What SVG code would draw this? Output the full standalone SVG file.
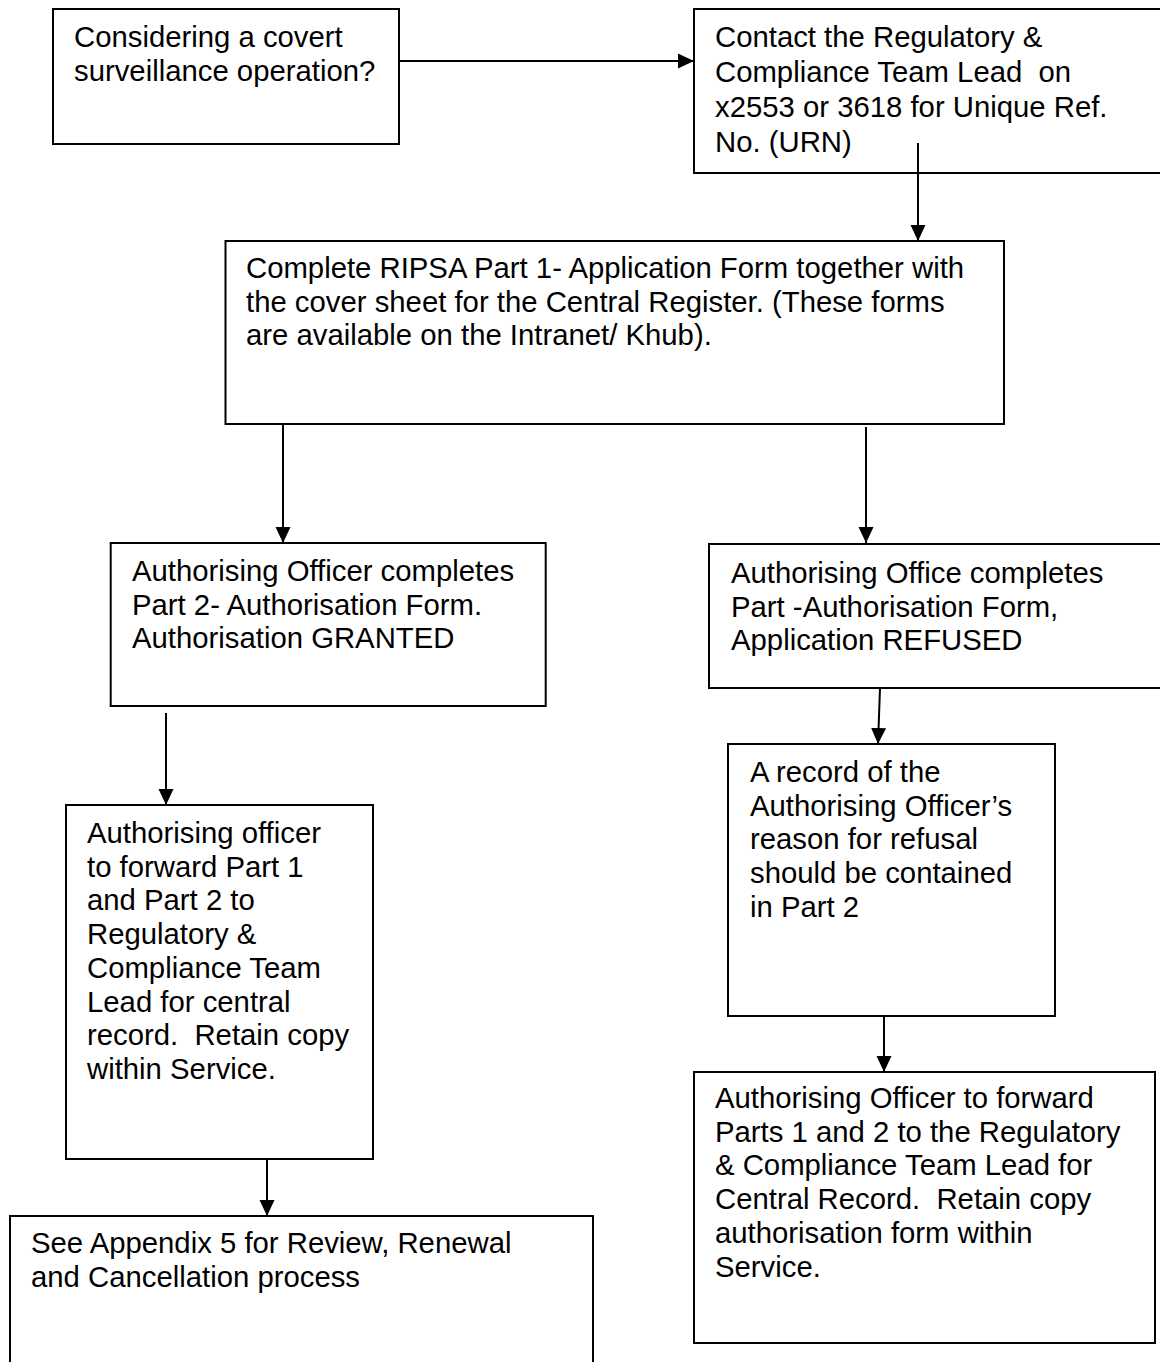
<svg xmlns="http://www.w3.org/2000/svg" width="1160" height="1362" viewBox="0 0 1160 1362">
<style>
.box{fill:#fff;stroke:#000;stroke-width:2}
.t{font-family:"Liberation Sans",Arial,sans-serif;font-size:29.3px;fill:#000;white-space:pre}
.c{stroke:#000;stroke-width:2;fill:none;marker-end:url(#ah)}
</style>
<defs>
<marker id="ah" markerUnits="userSpaceOnUse" markerWidth="16" markerHeight="16" refX="16" refY="8" orient="auto">
<path d="M0,0.5 L16,8 L0,15.5 Z" fill="#000"/>
</marker>
</defs>
<rect width="1160" height="1362" fill="#fff"/>
<g id="n1"><rect class="box" x="53" y="9" width="346" height="135"/>
<text class="t" x="74" y="47"><tspan x="74">Considering a covert</tspan><tspan x="74" dy="33.7">surveillance operation?</tspan></text></g>
<g id="n2"><rect class="box" x="694" y="9" width="470" height="164"/>
<text class="t" x="715" y="47"><tspan x="715">Contact the Regulatory &amp;</tspan><tspan x="715" dy="35">Compliance Team Lead  on</tspan><tspan x="715" dy="35">x2553 or 3618 for Unique Ref.</tspan><tspan x="715" dy="35">No. (URN)</tspan></text></g>
<g id="n3"><rect class="box" x="225.5" y="241" width="778.5" height="183"/>
<text class="t" x="246" y="278"><tspan x="246">Complete RIPSA Part 1- Application Form together with</tspan><tspan x="246" dy="33.7">the cover sheet for the Central Register. (These forms</tspan><tspan x="246" dy="33.7">are available on the Intranet/ Khub).</tspan></text></g>
<g id="n4"><rect class="box" x="110.7" y="543" width="435" height="163"/>
<text class="t" x="132" y="581"><tspan x="132">Authorising Officer completes</tspan><tspan x="132" dy="33.7">Part 2- Authorisation Form.</tspan><tspan x="132" dy="33.7">Authorisation GRANTED</tspan></text></g>
<g id="n5"><rect class="box" x="709" y="544" width="455" height="144"/>
<text class="t" x="731" y="583"><tspan x="731">Authorising Office completes</tspan><tspan x="731" dy="33.7">Part -Authorisation Form,</tspan><tspan x="731" dy="33.7">Application REFUSED</tspan></text></g>
<g id="n6"><rect class="box" x="728" y="744" width="327" height="272"/>
<text class="t" x="750" y="782"><tspan x="750">A record of the</tspan><tspan x="750" dy="33.7">Authorising Officer’s</tspan><tspan x="750" dy="33.7">reason for refusal</tspan><tspan x="750" dy="33.7">should be contained</tspan><tspan x="750" dy="33.7">in Part 2</tspan></text></g>
<g id="n7"><rect class="box" x="694" y="1072" width="461" height="271"/>
<text class="t" x="715" y="1108"><tspan x="715">Authorising Officer to forward</tspan><tspan x="715" dy="33.7">Parts 1 and 2 to the Regulatory</tspan><tspan x="715" dy="33.7">&amp; Compliance Team Lead for</tspan><tspan x="715" dy="33.7">Central Record.  Retain copy</tspan><tspan x="715" dy="33.7">authorisation form within</tspan><tspan x="715" dy="33.7">Service.</tspan></text></g>
<g id="n8"><rect class="box" x="66" y="805" width="307" height="354"/>
<text class="t" x="87" y="843"><tspan x="87">Authorising officer</tspan><tspan x="87" dy="33.7">to forward Part 1</tspan><tspan x="87" dy="33.7">and Part 2 to</tspan><tspan x="87" dy="33.7">Regulatory &amp;</tspan><tspan x="87" dy="33.7">Compliance Team</tspan><tspan x="87" dy="33.7">Lead for central</tspan><tspan x="87" dy="33.7">record.  Retain copy</tspan><tspan x="87" dy="33.7">within Service.</tspan></text></g>
<g id="n9"><rect class="box" x="10" y="1216" width="583" height="160"/>
<text class="t" x="31" y="1253"><tspan x="31">See Appendix 5 for Review, Renewal</tspan><tspan x="31" dy="33.7">and Cancellation process</tspan></text></g>
<g id="connectors">
<path class="c" d="M399,61 H694"/>
<path class="c" d="M918,143 V241"/>
<path class="c" d="M283,425 V543"/>
<path class="c" d="M866,427 V543"/>
<path class="c" d="M880,688 L878,744"/>
<path class="c" d="M166,713 V805"/>
<path class="c" d="M884,1016 V1072"/>
<path class="c" d="M267,1159 V1216"/>
</g>
</svg>
